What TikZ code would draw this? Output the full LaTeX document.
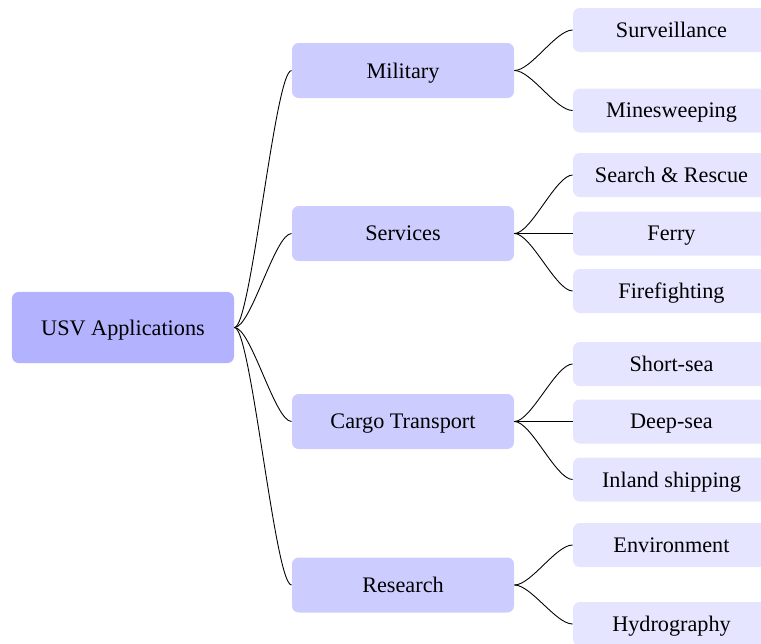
\documentclass[tikz,border=0pt]{standalone}
\usepackage{fontspec}
\setmainfont{Liberation Serif}
\newcommand{\armlen}{7.5pt}
\tikzstyle{root} = [fill=blue!30, rounded corners=3pt, minimum width=99.9pt, minimum height=32pt, text depth=0pt]
\tikzstyle{branch} = [fill=blue!20, rounded corners=3pt, minimum width=99.9pt, minimum height=24.75pt, text depth=0pt]
\tikzstyle{leaf} = [fill=blue!10, rounded corners=3pt, minimum width=88.6pt, minimum height=19.8pt, text depth=0pt]
\tikzstyle{link} = [draw=black]
\begin{document}
\begin{tikzpicture}[x=0.45pt, y=-0.45pt]

		\clip (0,0) rectangle (761,643);

		\node (usv) [root] at (123,327.5) {USV Applications};

		\node (military) [branch] at (403,70.5) {Military};
		\node (services) [branch] at (403,233.5) {Services};
		\node (cargo) [branch] at (403,421.5) {Cargo Transport};
		\node (research) [branch] at (403,585) {Research};

		\node (surv) [leaf] at (671.5,30) {Surveillance};
		\node (mine) [leaf] at (671.5,110.5) {Minesweeping};
		\node (sar) [leaf] at (671.5,175) {Search \& Rescue};
		\node (ferry) [leaf] at (671.5,233.5) {Ferry};
		\node (fire) [leaf] at (671.5,291) {Firefighting};
		\node (short) [leaf] at (671.5,364) {Short-sea};
		\node (deep) [leaf] at (671.5,421.5) {Deep-sea};
		\node (inland) [leaf] at (671.5,479.5) {Inland shipping};
		\node (env) [leaf] at (671.5,545) {Environment};
		\node (hydro) [leaf] at (671.5,624) {Hydrography};

		\foreach \from/\to in {usv/military, usv/services, usv/cargo, usv/research,
			military/surv, military/mine, services/sar, services/ferry, services/fire,
			cargo/short, cargo/deep, cargo/inland, research/env, research/hydro}
			\draw [link] (\from.east) .. controls +(\armlen,0) and +(-\armlen,0) .. (\to.west);

	\end{tikzpicture}
\end{document}
